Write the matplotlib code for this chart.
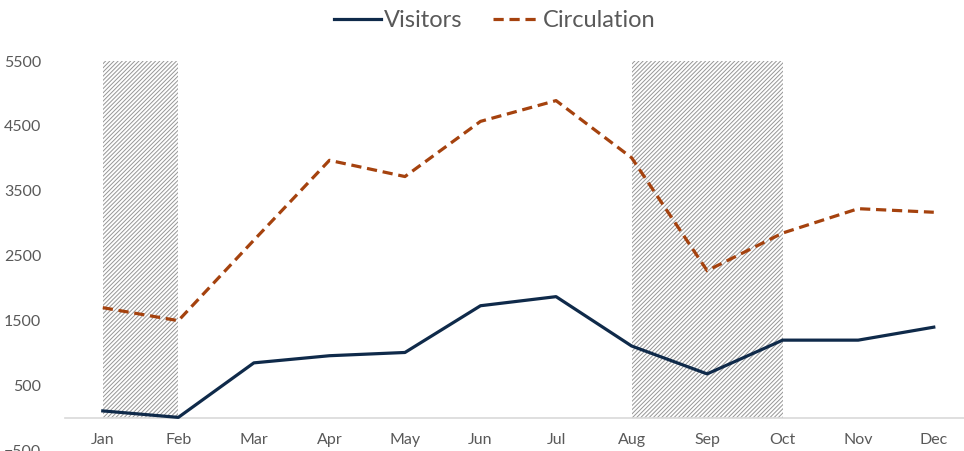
import matplotlib.pyplot as plt
import matplotlib as mpl

months = ["Jan", "Feb", "Mar", "Apr", "May", "Jun", "Jul", "Aug", "Sep", "Oct", "Nov", "Dec"]
visitors = [110, 10, 850, 960, 1010, 1730, 1870, 1110, 680, 1200, 1200, 1400]
circulation = [1700, 1500, 2740, 3970, 3720, 4570, 4890, 4010, 2270, 2850, 3225, 3170]
# shaded periods (month index start, end)
shaded = [(0, 1), (7, 9)]
y_ticks = [-500, 500, 1500, 2500, 3500, 4500, 5500]

mpl.rcParams['hatch.linewidth'] = 0.7
mpl.rcParams['hatch.color'] = '#969696'
plt.rcParams['font.family'] = ['Lato', 'DejaVu Sans']

fig = plt.figure(figsize=(9.64, 4.51), dpi=100)
ax = fig.add_axes([65 / 964, 0.5 / 451, 899 / 964, 389.5 / 451])

x = list(range(len(months)))

# hatched regions
for a, b in shaded:
    ax.fill_between([a, b], 0, 5500, facecolor='white', edgecolor='#969696',
                    hatch='////////', linewidth=0, zorder=1)

ax.plot(x, visitors, color='#0f2a4a', lw=2.3, label='Visitors', zorder=3,
        solid_joinstyle='round')
ax.plot(x, circulation, color='#a5420e', lw=2.3, ls=(0, (3.2, 1.8)),
        label='Circulation', zorder=3)

ax.set_xlim(-0.5, 11.4)
ax.set_ylim(-500, 5500)
ax.set_yticks(y_ticks)
ax.set_xticks(x)
ax.set_xticklabels(months)

for s in ['top', 'right', 'left']:
    ax.spines[s].set_visible(False)
ax.spines['bottom'].set_position(('data', 0))
ax.spines['bottom'].set_color('#d9d9d9')
ax.spines['bottom'].set_linewidth(1.2)
ax.tick_params(axis='both', length=0, colors='#595959', labelsize=11.5)
ax.tick_params(axis='y', pad=17)
ax.tick_params(axis='x', pad=11)

leg = fig.legend(loc='upper center', bbox_to_anchor=(0.513, 1.025), ncol=2, frameon=False,
                 fontsize=17, handlelength=2.0, columnspacing=1.3, handletextpad=0.1)
for t in leg.get_texts():
    t.set_color('#595959')

fig.savefig('out.png', dpi=100)
